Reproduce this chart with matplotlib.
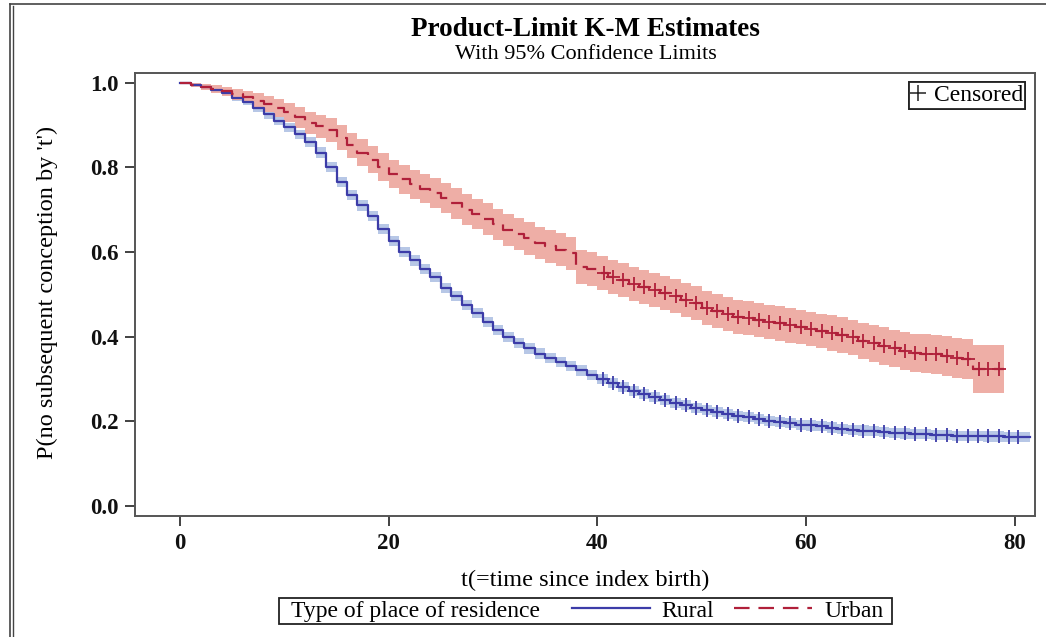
import matplotlib
matplotlib.use("Agg")
import matplotlib.pyplot as plt
import numpy as np
from matplotlib.lines import Line2D
from matplotlib.offsetbox import HPacker, DrawingArea

plt.rcParams['font.family'] = ['Liberation Serif', 'DejaVu Serif']

# Kaplan-Meier estimates (value from month t onward)
rural_t = list(range(0, 82))
rural_s = [1.000, 0.995, 0.990, 0.983, 0.975, 0.965, 0.955, 0.940, 0.925, 0.910,
           0.895, 0.878, 0.860, 0.835, 0.800, 0.765, 0.735, 0.710, 0.685, 0.655,
           0.625, 0.600, 0.580, 0.560, 0.540, 0.515, 0.495, 0.475, 0.455, 0.435,
           0.415, 0.400, 0.385, 0.372, 0.360, 0.350, 0.340, 0.330, 0.320, 0.310,
           0.300, 0.290, 0.280, 0.272, 0.264, 0.257, 0.250, 0.244, 0.238, 0.232,
           0.227, 0.222, 0.217, 0.213, 0.209, 0.205, 0.201, 0.198, 0.195, 0.192,
           0.190, 0.188, 0.185, 0.182, 0.180, 0.178, 0.176, 0.174, 0.172, 0.171,
           0.170, 0.169, 0.168, 0.167, 0.166, 0.165, 0.165, 0.164, 0.164, 0.163,
           0.163, 0.163]
rural_hw = [0.000, 0.003, 0.004, 0.005, 0.006, 0.007, 0.008, 0.009, 0.010, 0.010,
            0.011, 0.011, 0.011, 0.012, 0.012, 0.012, 0.012, 0.012, 0.012, 0.012,
            0.012, 0.012, 0.012, 0.012, 0.012, 0.012, 0.012, 0.012, 0.012, 0.012,
            0.012, 0.012, 0.012, 0.012, 0.012, 0.012, 0.012, 0.012, 0.012, 0.012,
            0.012, 0.012, 0.012, 0.012, 0.012, 0.012, 0.012, 0.012, 0.012, 0.012,
            0.012, 0.012, 0.012, 0.012, 0.012, 0.012, 0.012, 0.012, 0.012, 0.012,
            0.012, 0.012, 0.012, 0.012, 0.012, 0.012, 0.012, 0.012, 0.012, 0.012,
            0.012, 0.012, 0.012, 0.012, 0.012, 0.012, 0.012, 0.012, 0.012, 0.012,
            0.012, 0.012]

urban_t = list(range(0, 80))
urban_s = [1.000, 0.995, 0.990, 0.985, 0.980, 0.973, 0.966, 0.958, 0.950, 0.940,
           0.930, 0.918, 0.905, 0.897, 0.888, 0.870, 0.852, 0.835, 0.818, 0.800,
           0.785, 0.772, 0.760, 0.750, 0.740, 0.728, 0.715, 0.700, 0.690, 0.678,
           0.665, 0.652, 0.642, 0.632, 0.622, 0.613, 0.605, 0.597, 0.565, 0.560,
           0.550, 0.540, 0.533, 0.525, 0.518, 0.510, 0.503, 0.495, 0.487, 0.479,
           0.467, 0.460, 0.453, 0.447, 0.443, 0.439, 0.435, 0.431, 0.427, 0.423,
           0.418, 0.413, 0.409, 0.404, 0.398, 0.390, 0.384, 0.378, 0.372, 0.366,
           0.362, 0.360, 0.358, 0.355, 0.350, 0.347, 0.323, 0.323, 0.323, 0.323]
urban_hw = [0.000, 0.005, 0.007, 0.009, 0.011, 0.013, 0.015, 0.017, 0.019, 0.021,
            0.023, 0.024, 0.026, 0.027, 0.028, 0.029, 0.030, 0.031, 0.032, 0.033,
            0.033, 0.034, 0.034, 0.035, 0.035, 0.035, 0.036, 0.036, 0.036, 0.037,
            0.037, 0.037, 0.038, 0.038, 0.038, 0.039, 0.039, 0.039, 0.040, 0.040,
            0.040, 0.040, 0.040, 0.040, 0.040, 0.040, 0.040, 0.040, 0.040, 0.040,
            0.040, 0.040, 0.040, 0.040, 0.040, 0.040, 0.040, 0.041, 0.041, 0.041,
            0.041, 0.041, 0.042, 0.042, 0.042, 0.043, 0.043, 0.044, 0.044, 0.045,
            0.045, 0.046, 0.046, 0.047, 0.047, 0.048, 0.057, 0.057, 0.057, 0.057]

# censoring times
rural_cens = [40.5, 41.5, 42.5, 43.5, 44.5, 45.5, 46.5, 47.5, 48.5, 49.5,
              50.5, 51.5, 52.5, 53.5, 54.5, 55.5, 56.5, 57.5, 58.5, 59.5,
              60.5, 61.5, 62.5, 63.5, 64.5, 65.5, 66.5, 67.5, 68.5, 69.5,
              70.5, 71.5, 72.5, 73.5, 74.5, 75.5, 76.5, 77.5, 78.5, 79.5, 80.3]
urban_cens = [40.6, 41.5, 42.5, 43.5, 44.5, 45.5, 46.5, 47.5, 48.5, 49.5,
              50.5, 51.5, 52.5, 53.5, 54.5, 55.5, 56.5, 57.5, 58.5, 59.5,
              60.5, 61.5, 62.5, 63.5, 64.5, 65.5, 66.5, 67.5, 68.5, 69.5,
              70.5, 71.5, 72.5, 73.5, 74.5, 75.5, 76.6, 77.5, 78.5]

rural_end = 81.5
urban_end = 79.0

blue = '#3c3ca8'
red = '#b0203a'
blue_band = '#b7c7e6'
red_band = '#eeaea6'


def stepped(t, s, end):
    tt = np.append(np.array(t, dtype=float), end)
    ss = np.append(np.array(s, dtype=float), s[-1])
    return tt, ss


fig = plt.figure(figsize=(10.46, 6.37), dpi=100)
ax = fig.add_axes([0.1291, 0.1900, 0.8604, 0.6954])

rt, rs = stepped(rural_t, rural_s, rural_end)
ut, us = stepped(urban_t, urban_s, urban_end)
rhw = np.append(rural_hw, rural_hw[-1])
uhw = np.append(urban_hw, urban_hw[-1])

ax.fill_between(rt, rs - rhw, rs + rhw, step='post', color=blue_band, lw=0)
ax.fill_between(ut, us - uhw, us + uhw, step='post', color=red_band, lw=0)
ax.step(rt, rs, where='post', color=blue, lw=1.6)
ax.step(ut, us, where='post', color=red, lw=1.6, dashes=(7, 4))

rc_y = [rural_s[int(np.floor(c))] for c in rural_cens]
uc_y = [urban_s[int(np.floor(c))] for c in urban_cens]
ax.plot(rural_cens, rc_y, ls='none', marker='+', ms=10, mew=1.3, color=blue)
ax.plot(urban_cens, uc_y, ls='none', marker='+', ms=10, mew=1.3, color=red)

ax.set_xlim(-4.32, 81.96)
ax.set_ylim(-0.024, 1.023)
ax.set_xticks([0, 20, 40, 60, 80])
ax.set_yticks([0.0, 0.2, 0.4, 0.6, 0.8, 1.0])
ax.set_yticklabels(['0.0', '0.2', '0.4', '0.6', '0.8', '1.0'])
ax.tick_params(direction='out', length=7.5, width=1.3, colors='#333333',
               labelsize=16.5, labelcolor='#111111')
ax.tick_params(axis='x', pad=5)
ax.tick_params(axis='y', pad=4)
for lab in ax.get_xticklabels() + ax.get_yticklabels():
    lab.set_fontweight('bold')
for sp in ax.spines.values():
    sp.set_color('#555555')
    sp.set_linewidth(1.4)

ax.set_xlabel("t(=time since index birth)", fontsize=17.5)
ax.set_ylabel("P(no subsequent conception by 't')", fontsize=17.5)
ax.xaxis.set_label_coords(0.5, -0.145)
ax.xaxis.label.set_va('center')
ax.yaxis.set_label_coords(-0.097, 0.505)
ax.yaxis.label.set_va('center')

fig.text(0.56, 0.953, 'Product-Limit K-M Estimates', ha='center', va='center',
         fontsize=19.5, fontweight='bold')
fig.text(0.56, 0.915, 'With 95% Confidence Limits', ha='center', va='center',
         fontsize=16)

# censored legend
cens_handle = Line2D([], [], ls='none', marker='+', ms=11, mew=1.1, color='#222222')
leg1 = ax.legend([cens_handle], ['Censored'], loc='upper right',
                 bbox_to_anchor=(0.992, 0.984), fancybox=False, edgecolor='#222222',
                 framealpha=1, handlelength=0.55, handletextpad=0.4,
                 borderpad=0.1, borderaxespad=0.1, prop={'size': 17})
leg1.get_frame().set_linewidth(1.3)
ax.add_artist(leg1)

# group legend: title on the same row as the entries
h_r = Line2D([], [], color=blue, lw=1.6)
h_u = Line2D([], [], color=red, lw=1.6, dashes=(7, 4))
leg2 = fig.legend([h_r, h_u], ['Rural', 'Urban'], title='Type of place of residence',
                  loc='center', bbox_to_anchor=(0.56, 0.041), ncol=2,
                  fancybox=False, edgecolor='#222222', framealpha=1,
                  handlelength=3.3, handletextpad=0.5, columnspacing=0.85,
                  borderpad=0.0, prop={'size': 17}, title_fontsize=17)
leg2.get_frame().set_linewidth(1.3)
fs = leg2._fontsize
title_row = HPacker(pad=0, sep=0, align='bottom',
                    children=[DrawingArea(7, 1), leg2._legend_title_box])
entry_row = HPacker(pad=0, sep=0, align='center',
                    children=[leg2._legend_handle_box, DrawingArea(5, 1)])
leg2._legend_box = HPacker(pad=0.08 * fs, sep=1.35 * fs, align='bottom',
                           children=[title_row, entry_row])
leg2._legend_box.set_figure(fig)
leg2._legend_box.set_offset(leg2._findoffset)

# screenshot frame on the left and top
fig.add_artist(Line2D([10 / 1046, 10 / 1046], [0, 1 - 4 / 637], transform=fig.transFigure,
                      color='#444444', lw=1.2))
fig.add_artist(Line2D([13 / 1046, 13 / 1046], [0, 1 - 6 / 637], transform=fig.transFigure,
                      color='#444444', lw=1.0))
fig.add_artist(Line2D([10 / 1046, 1], [1 - 4 / 637, 1 - 4 / 637], transform=fig.transFigure,
                      color='#444444', lw=1.2))

fig.savefig('out.png', dpi=100)
